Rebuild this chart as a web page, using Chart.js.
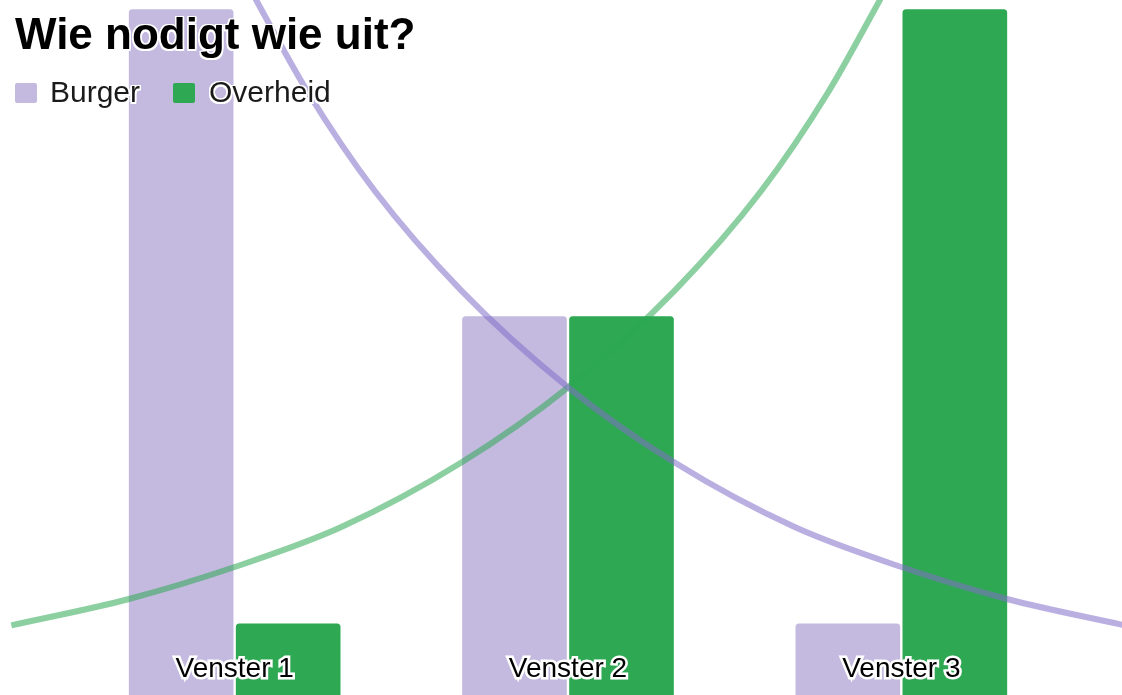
<!DOCTYPE html>
<html>
<head>
<meta charset="utf-8">
<script src="https://cdn.jsdelivr.net/npm/chart.js@4.4.1/dist/chart.umd.min.js"></script>
<style>
  html, body { margin: 0; padding: 0; background: #fff; }
  #wrap { position: relative; width: 1122px; height: 695px; overflow: hidden; }
  #chart { position: absolute; left: 0; top: 0; }
  .halo { text-shadow: -1.5px -1.5px 0 #fff, 1.5px -1.5px 0 #fff, -1.5px 1.5px 0 #fff, 1.5px 1.5px 0 #fff, 0 -1.5px 0 #fff, 0 1.5px 0 #fff, -1.5px 0 0 #fff, 1.5px 0 0 #fff; }
  #title { position: absolute; left: 15px; top: 12px; margin: 0; font: bold 44px/44px "Liberation Sans", Arial, sans-serif; color: #000; white-space: nowrap; }
  .lg-box { position: absolute; top: 83px; width: 22px; height: 20px; border-radius: 2px; }
  .lg-text { position: absolute; top: 77px; font: 30px/30px "Liberation Sans", Arial, sans-serif; color: #1a1a1a; white-space: nowrap; }
</style>
</head>
<body>
<div id="wrap">
  <canvas id="chart" width="1122" height="695"></canvas>
  <h1 id="title" class="halo">Wie nodigt wie uit?</h1>
  <div id="legend"></div>
</div>
<script>
// ---- data ----
const categories = ['Venster 1', 'Venster 2', 'Venster 3'];
const seriesNames = ['Burger', 'Overheid'];
const burgerValues = [5, 3, 1];
const overheidValues = [1, 3, 5];

// trend curves (x in category units, y in value units)
const burgerCurveX = [-0.01, 0.08, 0.22, 0.42, 0.68, 1.00, 1.32, 1.68, 2.00, 2.32, 2.67];
const burgerCurveY = [5.35, 4.99, 4.45, 3.81, 3.16, 2.53, 2.04, 1.62, 1.36, 1.15, 0.98];
const overheidCurveX = [-0.67, -0.32, 0.00, 0.32, 0.68, 1.00, 1.32, 1.58, 1.78, 1.92, 2.01];
const overheidCurveY = [0.98, 1.15, 1.36, 1.62, 2.04, 2.53, 3.16, 3.81, 4.45, 4.99, 5.35];

const colors = {
  burger: '#c4bae0',
  overheid: '#2ea852',
  burgerLine: 'rgba(130,110,200,0.55)',
  overheidLine: 'rgba(46,168,82,0.55)'
};

// ---- legend (HTML) ----
const legendItems = [
  { name: seriesNames[0], color: colors.burger, boxX: 15, textX: 50 },
  { name: seriesNames[1], color: colors.overheid, boxX: 173, textX: 209 }
];
const legendEl = document.getElementById('legend');
legendItems.forEach(it => {
  const b = document.createElement('span');
  b.className = 'lg-box';
  b.style.left = it.boxX + 'px';
  b.style.background = it.color;
  legendEl.appendChild(b);
  const t = document.createElement('span');
  t.className = 'lg-text halo';
  t.style.left = it.textX + 'px';
  t.textContent = it.name;
  legendEl.appendChild(t);
});

const toPoints = (xs, ys) => xs.map((x, i) => ({ x: x, y: ys[i] }));

new Chart(document.getElementById('chart'), {
  type: 'bar',
  data: {
    labels: categories,
    datasets: [
      {
        type: 'line', label: seriesNames[0] + ' trend',
        data: toPoints(burgerCurveX, burgerCurveY),
        xAxisID: 'xLine', yAxisID: 'y',
        borderColor: colors.burgerLine, borderWidth: 6,
        pointRadius: 0, fill: false, cubicInterpolationMode: 'monotone',
        clip: false, order: 0
      },
      {
        type: 'line', label: seriesNames[1] + ' trend',
        data: toPoints(overheidCurveX, overheidCurveY),
        xAxisID: 'xLine', yAxisID: 'y',
        borderColor: colors.overheidLine, borderWidth: 6,
        pointRadius: 0, fill: false, cubicInterpolationMode: 'monotone',
        clip: false, order: 0
      },
      {
        label: seriesNames[0], data: burgerValues,
        backgroundColor: colors.burger, borderColor: '#ffffff', borderWidth: 1.5,
        borderRadius: 5, borderSkipped: 'start',
        xAxisID: 'x', yAxisID: 'y', clip: false, order: 1,
        barThickness: 107
      },
      {
        label: seriesNames[1], data: overheidValues,
        backgroundColor: colors.overheid, borderColor: '#ffffff', borderWidth: 1.5,
        borderRadius: 5, borderSkipped: 'start',
        xAxisID: 'x', yAxisID: 'y', clip: false, order: 1,
        barThickness: 107
      }
    ]
  },
  options: {
    responsive: false,
    animation: false,
    events: [],
    layout: { padding: { left: 68, right: 54, top: 8, bottom: 5 } },
    plugins: { legend: { display: false }, title: { display: false }, tooltip: { enabled: false } },
    scales: {
      x: {
        type: 'category', offset: true,
        grid: { display: false, drawTicks: false },
        border: { display: false },
        ticks: {
          z: 1,
          color: '#000', padding: 4, maxRotation: 0, autoSkip: false,
          font: { family: '"Liberation Sans", Arial, sans-serif', size: 28 },
          textStrokeColor: '#fff', textStrokeWidth: 5
        }
      },
      xLine: { type: 'linear', display: false, offset: false, min: -0.5, max: 2.5, grid: { offset: false } },
      y: { display: false, min: 0.83, max: 5 }
    }
  }
});
</script>
</body>
</html>
